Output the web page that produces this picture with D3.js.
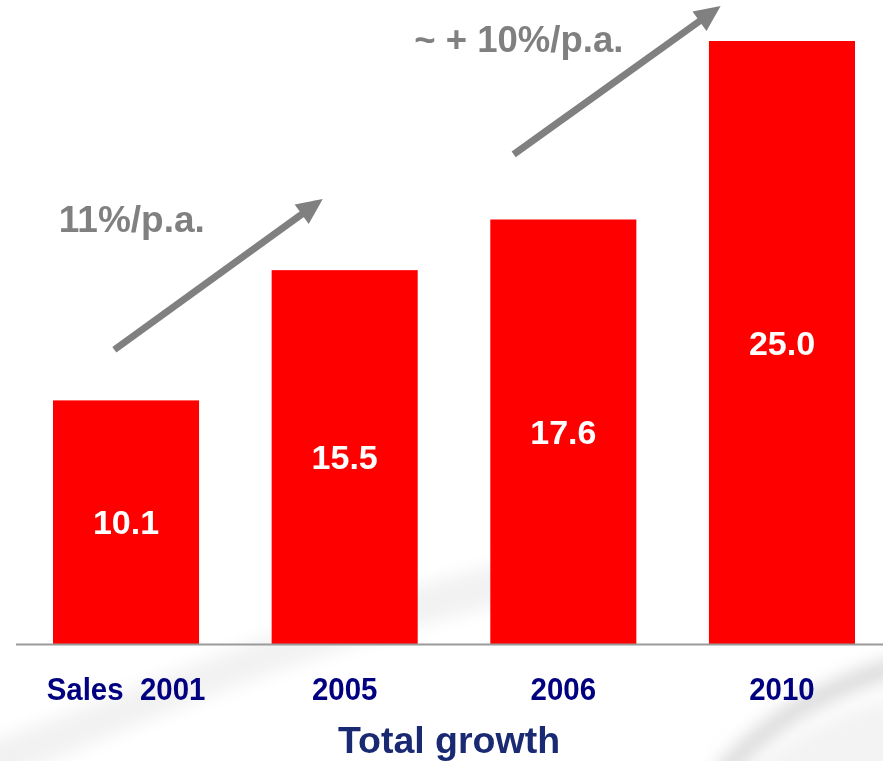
<!DOCTYPE html>
<html>
<head>
<meta charset="utf-8">
<script src="https://cdn.jsdelivr.net/npm/d3@7"></script>
<style>
  html, body { margin: 0; padding: 0; background: #ffffff; }
  svg { display: block; }
  text { font-family: "Liberation Sans", Arial, sans-serif; font-weight: bold; }
</style>
</head>
<body>
<div id="chart"></div>
<script>
// Sales by year (bar values)
const categories = ["Sales  2001", "2005", "2006", "2010"];
const values = [10.1, 15.5, 17.6, 25.0];
const valueLabels = ["10.1", "15.5", "17.6", "25.0"];
const axisTitle = "Total growth";

// Growth annotations: arrow from/to given as [bar index, fraction across bar, value]
const growthLabels = ["11%/p.a.", "~ + 10%/p.a."];
const growthFrom = [[0, 0.42, 12.2], [2, 0.16, 20.3]];
const growthTo = [[1, 0.35, 18.45], [3, 0.08, 26.45]];
const growthText = [[0, 0.04, 17.1], [2, -0.52, 24.55]];

const W = 883, H = 761;
const svg = d3.select("#chart").append("svg").attr("width", W).attr("height", H);

const defs = svg.append("defs");
defs.append("filter").attr("id", "soft").attr("x", "-20%").attr("y", "-20%")
  .attr("width", "140%").attr("height", "140%")
  .append("feGaussianBlur").attr("stdDeviation", 9);

// faint background swooshes
const bg = svg.append("g").attr("filter", "url(#soft)");
bg.append("path")
  .attr("d", "M -20 745 C 150 690, 300 610, 520 560 L 520 600 C 300 650, 150 720, -20 790 Z")
  .attr("fill", "#eeeeee").attr("opacity", 0.8);
bg.append("path")
  .attr("d", "M 720 775 C 770 720, 820 690, 900 665")
  .attr("fill", "none").attr("stroke", "#cfcfcf").attr("stroke-width", 16).attr("opacity", 0.9);
bg.append("path")
  .attr("d", "M 740 780 C 790 735, 840 710, 900 695 L 900 780 Z")
  .attr("fill", "#f3f3f3");

const x = d3.scaleBand().domain(categories).range([53, 855]).paddingInner(0.332).paddingOuter(0);
const y = d3.scaleLinear().domain([0, 25]).range([644, 41]);

const pos = (p) => [x(categories[p[0]]) + x.bandwidth() * p[1], y(p[2])];

// bars
svg.append("g").selectAll("rect").data(values).join("rect")
  .attr("x", (d, i) => x(categories[i]))
  .attr("y", d => y(d))
  .attr("width", x.bandwidth())
  .attr("height", d => y(0) - y(d))
  .attr("fill", "#ff0000");

// baseline
svg.append("line")
  .attr("x1", 16).attr("x2", W)
  .attr("y1", y(0) + 0.5).attr("y2", y(0) + 0.5)
  .attr("stroke", "#9a9a9a").attr("stroke-width", 2);

// value labels centred in each bar
svg.append("g").selectAll("text").data(values).join("text")
  .attr("x", (d, i) => x(categories[i]) + x.bandwidth() / 2)
  .attr("y", d => (y(d) + y(0)) / 2)
  .attr("dy", "0.36em")
  .attr("text-anchor", "middle")
  .attr("fill", "#ffffff")
  .attr("font-size", 34)
  .text((d, i) => valueLabels[i]);

// category labels
svg.append("g").selectAll("text").data(categories).join("text")
  .attr("transform", d => `translate(${x(d) + x.bandwidth() / 2},700) scale(0.92,1)`)
  .attr("text-anchor", "middle")
  .attr("fill", "#000080")
  .attr("font-size", 32)
  .style("white-space", "pre")
  .text(d => d);

// axis title
svg.append("text")
  .attr("x", 449).attr("y", 753)
  .attr("text-anchor", "middle")
  .attr("fill", "#1a2a72")
  .attr("font-size", 37.5)
  .text(axisTitle);

// growth arrows
const arrows = svg.append("g");
growthFrom.forEach((f, i) => {
  const [x0, y0] = pos(f);
  const [x1, y1] = pos(growthTo[i]);
  const ang = Math.atan2(y1 - y0, x1 - x0);
  const headLen = 26, headHalf = 12;
  const bx = x1 - headLen * Math.cos(ang), by = y1 - headLen * Math.sin(ang);
  const nx = -Math.sin(ang), ny = Math.cos(ang);
  arrows.append("line")
    .attr("x1", x0).attr("y1", y0).attr("x2", bx + 2 * Math.cos(ang)).attr("y2", by + 2 * Math.sin(ang))
    .attr("stroke", "#808080").attr("stroke-width", 7);
  arrows.append("path")
    .attr("d", `M${x1},${y1} L${bx + nx * headHalf},${by + ny * headHalf} L${bx - nx * headHalf},${by - ny * headHalf} Z`)
    .attr("fill", "#808080");
});

// growth rate labels
svg.append("g").selectAll("text").data(growthLabels).join("text")
  .attr("x", (d, i) => pos(growthText[i])[0])
  .attr("y", (d, i) => pos(growthText[i])[1])
  .attr("fill", "#808080")
  .attr("font-size", (d, i) => i === 0 ? 37 : 36.5)
  .text(d => d);
</script>
</body>
</html>
